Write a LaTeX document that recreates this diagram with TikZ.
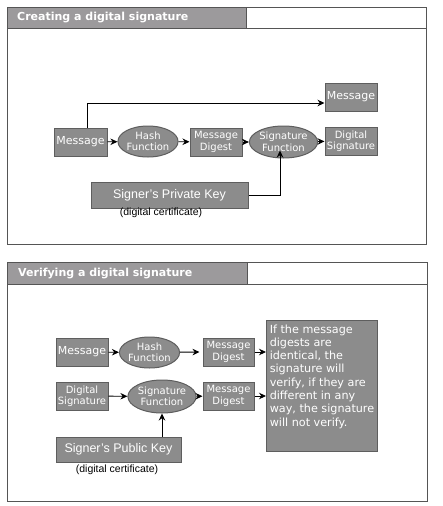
\documentclass[tikz,border=0pt]{standalone}
\usepackage{fontspec}
\setmainfont{DejaVu Sans}
\newfontfamily\arialfont{Liberation Sans}
\usetikzlibrary{shapes.geometric,arrows.meta,positioning}
\definecolor{boxfill}{HTML}{8C8C8C}
\definecolor{boxline}{HTML}{5E5E5E}
\definecolor{headfill}{HTML}{9C9A9C}
\definecolor{frameline}{HTML}{555555}
\tikzset{
  x=1pt, y=-1pt,
  gbox/.style={draw=boxline, line width=1pt, fill=boxfill, text=white, inner sep=0pt, align=center, font=\fontsize{10}{11.5}\selectfont},
  gell/.style={gbox, ellipse},
  arr/.style={draw=black, line width=0.9pt, -{Stealth[length=7pt,width=6.5pt]}},
  frame/.style={draw=frameline, line width=1pt},
  headbar/.style={draw=frameline, line width=1pt, fill=headfill},
  headtext/.style={anchor=west, text=white, font=\fontsize{11}{13}\bfseries\selectfont, inner sep=0pt},
  cert/.style={font=\arialfont\fontsize{10.5}{12}\selectfont, inner sep=0pt},
  keybox/.style={gbox, font=\arialfont\fontsize{12.5}{14}\selectfont},
  bigtext/.style={font=\fontsize{11}{12}\selectfont},
}
\begin{document}
\begin{tikzpicture}
\useasboundingbox (0,0) rectangle (442,506);
% ---------- top panel ----------
\draw[frame, fill=white] (7,7) rectangle (426,244);
\draw[frame] (7,28) -- (426,28);
\draw[headbar] (7,7) rectangle (246,28);
\node[headtext] (headA) at (17,18) {Creating a digital signature};

\node[gbox, bigtext, minimum width=53, minimum height=28] (msgA) at (80.5,142) {Message};
\node[gell, minimum width=58, minimum height=31] (hashA) at (148,141.5) {Hash\\Function};
\node[gbox, minimum width=52, minimum height=28] (digA) at (216,142) {Message\\Digest};
\node[gell, minimum width=57, minimum height=32] (sigA) at (283.5,142) {Signature\\Function};
\node[gbox, minimum width=52, minimum height=28] (dsA) at (351,141) {Digital\\Signature};
\node[gbox, bigtext, minimum width=52, minimum height=28] (msgB) at (351,97) {Message};
\node[keybox, minimum width=157, minimum height=26] (keyA) at (169.5,195) {Signer’s Private Key};
\node[cert] (certA) at (161,213) {(digital certificate)};

\draw[arr] (msgA) -- (hashA);
\draw[arr] (hashA) -- (digA);
\draw[arr] (digA) -- (sigA);
\draw[arr] (sigA) -- (dsA);
\draw[arr] ([xshift=6.5]msgA.north) |- ([yshift=-6]msgB.west);
\draw[arr] (keyA.east) -| ([xshift=-3.5,yshift=8]sigA.south);

% ---------- bottom panel ----------
\draw[frame, fill=white] (7,262) rectangle (427,501);
\draw[frame] (7,284) -- (427,284);
\draw[headbar] (7,262) rectangle (247,284);
\node[headtext] (headC) at (18,274) {Verifying a digital signature};

\node[gbox, bigtext, minimum width=52, minimum height=28] (msgC) at (82,352) {Message};
\node[gell, minimum width=57, minimum height=31] (hashC) at (149.5,352.5) {Hash\\Function};
\node[gbox, minimum width=51, minimum height=28] (digC) at (228.5,352) {Message\\Digest};
\node[gbox, minimum width=52, minimum height=28] (dsC) at (82,396) {Digital\\Signature};
\node[gell, minimum width=58, minimum height=33] (sigC) at (162,396.5) {Signature\\Function};
\node[gbox, minimum width=51, minimum height=28] (digD) at (228.5,396) {Message\\Digest};
\node[keybox, minimum width=125, minimum height=25] (keyC) at (118.5,449.5) {Signer’s Public Key};
\node[cert] (certC) at (117,470) {(digital certificate)};
\node[gbox, minimum width=111, minimum height=118, align=left, anchor=north west, inner xsep=3pt, inner ysep=4pt,
      font=\fontsize{11.2}{13.3}\selectfont, text depth=0pt] (note) at (266,320)
  {If the message\\digests are\\identical, the\\signature will\\verify, if they are\\different in any\\way, the signature\\will not verify.\\[8pt]};

\draw[arr] (msgC) -- (hashC);
\draw[arr] (hashC) -- ([xshift=-3]digC.west);
\draw[arr] (digC.east) -- (note.west |- digC.east);
\draw[arr] (dsC) -- (sigC);
\draw[arr] (sigC) -- (digD);
\draw[arr] (digD.east) -- (note.west |- digD.east);
\draw[arr] (sigC.south |- keyC.north) -- (sigC.south);
\end{tikzpicture}
\end{document}
